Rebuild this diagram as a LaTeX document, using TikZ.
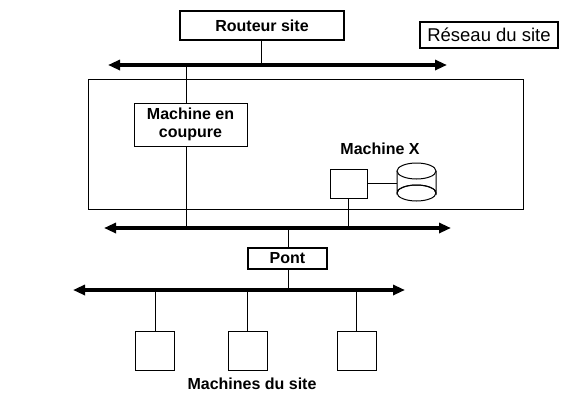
\documentclass[tikz,border=0pt]{standalone}
\usepackage{fontspec}
\setmainfont{Liberation Sans}
\usetikzlibrary{arrows.meta}
\begin{document}
\begin{tikzpicture}[x=1pt,y=-1pt,
  thin/.style={line width=1pt},
  bus/.style={line width=3.5pt,{Triangle[length=12pt,width=10pt]}-{Triangle[length=12pt,width=10pt]}},
  thickbox/.style={draw,line width=1.8pt,inner sep=0pt},
  thinbox/.style={draw,line width=1pt,inner sep=0pt},
  lbl/.style={font=\fontsize{16}{18}\selectfont\bfseries}]
\useasboundingbox (0,0) rectangle (580,400);
% big site rectangle
\draw[thin] (88,79) rectangle (523,209);
% buses
\coordinate (b1l) at (108,65); \coordinate (b1r) at (447,65);
\coordinate (b2l) at (104,228); \coordinate (b2r) at (451,228);
\coordinate (b3l) at (73,290); \coordinate (b3r) at (405,290);
\draw[bus] (b1l) -- (b1r);
\draw[bus] (b2l) -- (b2r);
\draw[bus] (b3l) -- (b3r);
% routeur
\node[thickbox,minimum width=164pt,minimum height=29pt,lbl] (rout) at (262,25.5) {Routeur site};
\draw[thin] (rout.south -| 261,0) -- (261,65);
% reseau du site
\node[thickbox,minimum width=138pt,minimum height=26pt,font=\fontsize{18.5}{20}\selectfont] (res) at (489,35) {Réseau du site};
% machine en coupure
\node[thinbox,minimum width=113pt,minimum height=43pt,lbl,align=center] (coup) at (190.5,124.5) {Machine en\\coupure};
\coordinate (c1) at (186,65); \coordinate (c2) at (186,228);
\draw[thin] (c1) -- (c1 |- coup.north);
\draw[thin] (c2 |- coup.south) -- (c2);
% machine X
\node[lbl] (mxl) at (380,149) {Machine X};
\node[thinbox,minimum width=37pt,minimum height=29pt] (mx) at (348.5,183.5) {};
\coordinate (mxb) at (348,228);
\draw[thin] (mx.south -| mxb) -- (mxb);
% disk
\coordinate (disk) at (416.5,171);
\draw[thin,fill=white] (397,171) -- (397,193) arc[start angle=180,end angle=360,x radius=19.5,y radius=8] -- (436,171);
\draw[thin] (416.5,193) ellipse[x radius=19.5,y radius=8];
\draw[thin,fill=white] (disk) ellipse[x radius=19.5,y radius=8];
\draw[thin] (mx.east) -- (397,183.5);
% pont
\node[thickbox,minimum width=79pt,minimum height=21pt,lbl] (pont) at (287.5,258.5) {Pont};
\coordinate (p1) at (288,228); \coordinate (p2) at (288,290);
\draw[thin] (p1) -- (p1 |- pont.north);
\draw[thin] (p2 |- pont.south) -- (p2);
% machines du site
\foreach \n/\x in {m1/155, m2/247.5, m3/356.5}{
  \node[thinbox,minimum width=39pt,minimum height=39pt] (\n) at (\x,350.5) {};
  \draw[thin] (\x,290) -- (\n.north);
}
\node[lbl] (mds) at (252,384) {Machines du site};
\end{tikzpicture}
\end{document}
